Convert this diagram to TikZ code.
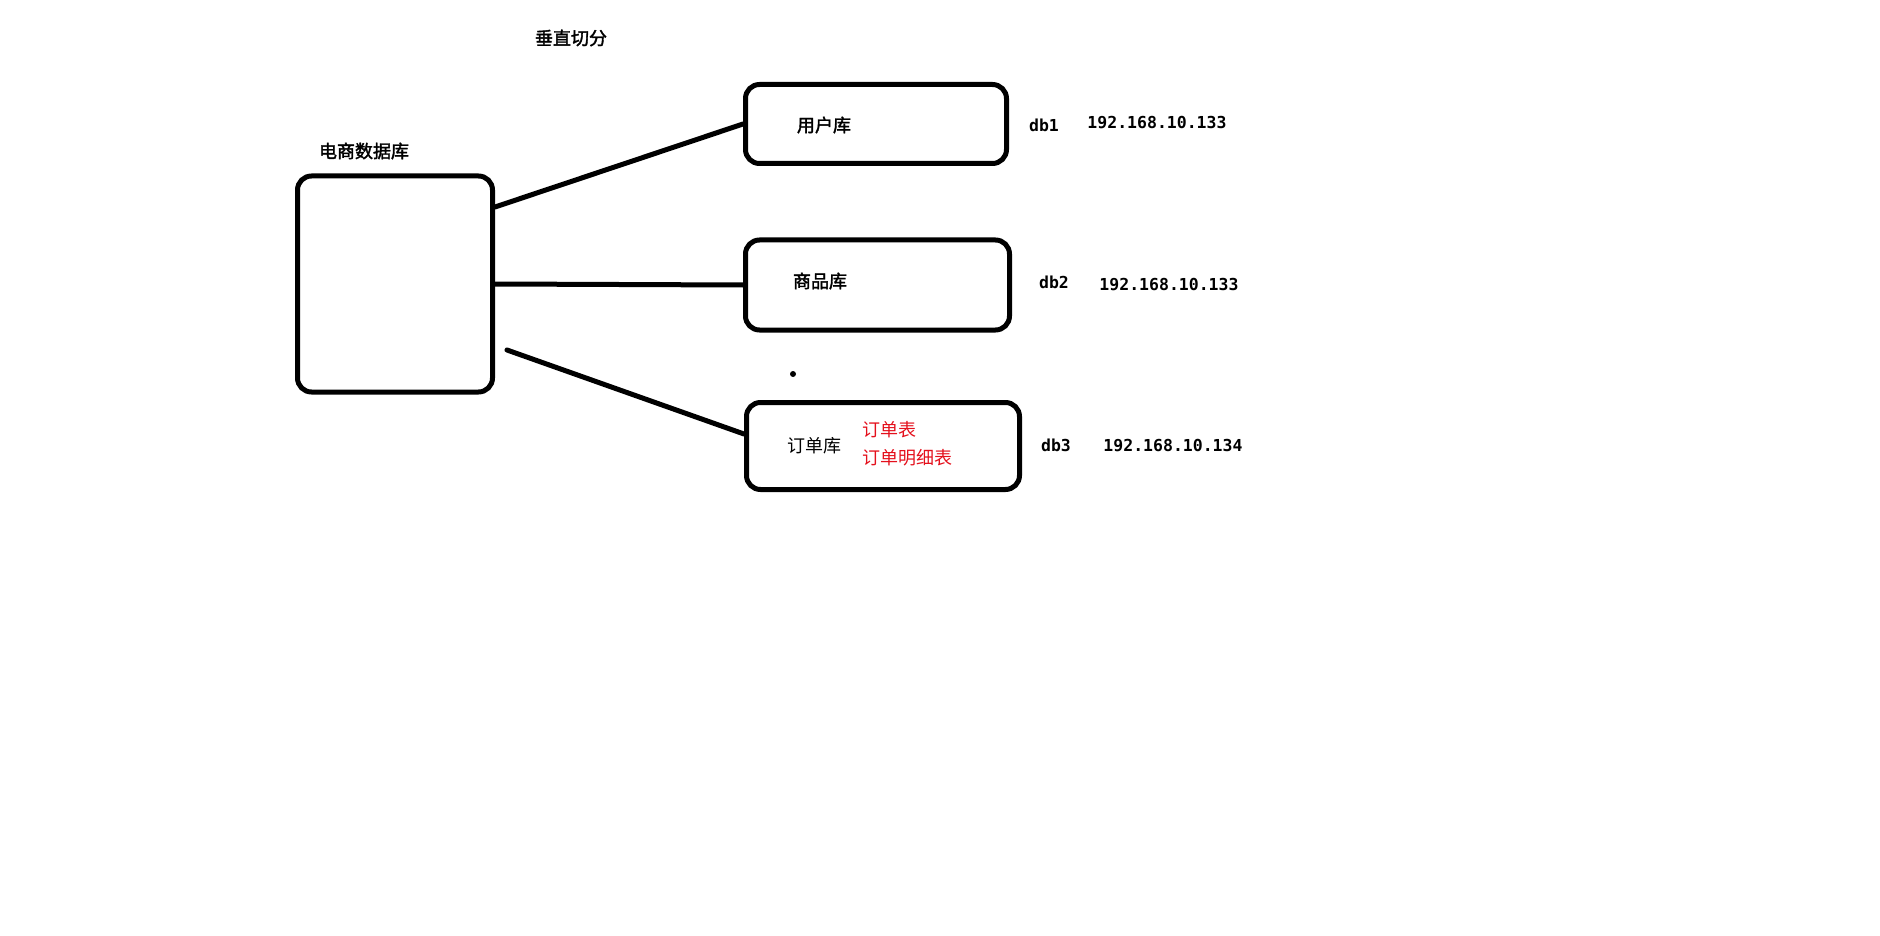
\documentclass[tikz,border=0pt]{standalone}
\usepackage{fontspec}
\usepackage{xcolor}
\usepackage{tikz}
\usetikzlibrary{positioning}
\newfontfamily\cjk[AutoFakeBold=2]{Noto Sans CJK SC}
\newfontfamily\ipfont{DejaVu Sans Mono}
\definecolor{tablered}{RGB}{228,16,28}
\tikzstyle{dbbox} = [rectangle, rounded corners=14pt,
minimum width=261pt,
minimum height=79pt,
draw=black,
line width=5pt]
\tikzstyle{title} = [inner sep=0pt, font=\cjk\bfseries\fontsize{18}{20}\selectfont]
\tikzstyle{cn} = [inner sep=0pt, font=\cjk\fontsize{18}{20}\selectfont]
\tikzstyle{ip} = [inner sep=0pt, font=\ipfont\bfseries\fontsize{16.5}{18}\selectfont]
\tikzstyle{link} = [line width=5pt, line cap=round]

\begin{document}
\begin{tikzpicture}[x=1pt, y=-1pt, node distance=161pt]
\useasboundingbox (0,0) rectangle (1880,936);

\node (split) [title] at (571,38) {垂直切分};
\node (main) [dbbox, minimum width=195pt, minimum height=216pt] at (395,284) {};
\node (mainlabel) [title] at (364,151) {电商数据库};

\node (user) [dbbox] at (876,124) {};
\node (goods) [dbbox, below of=user, minimum width=264pt, minimum height=90pt, xshift=1.5pt] {};
\node (order) [dbbox, below of=goods, minimum width=273pt, minimum height=87pt, xshift=5.5pt] {};

\node (userlabel) [title] at (824,125) {用户库};
\node (goodslabel) [title] at (820,281) {商品库};
\node (orderlabel) [cn] at (814,446) {订单库};
\node (tables) [cn, anchor=west, align=left, text=tablered,
  font=\cjk\fontsize{18}{28}\selectfont] at (862,444) {订单表\\订单明细表};
\node (dot) [circle, fill=black, inner sep=0pt, minimum size=6pt] at (793,374) {};

\node (db1) [ip] at (1044,125) {db1};
\node (ip1) [ip] at (1157,123) {192.168.10.133};
\node (db2) [ip] at (1054,282) {db2};
\node (ip2) [ip] at (1169,285) {192.168.10.133};
\node (db3) [ip] at (1056,445) {db3};
\node (ip3) [ip] at (1173,446) {192.168.10.134};

\draw [link] ([yshift=77pt]main.east) -- (user.west);
\draw [link] (main.east) -- (goods.west);
\draw [link] ([xshift=12pt,yshift=-66pt]main.east) -- ([yshift=12pt]order.west);

\end{tikzpicture}
\end{document}
